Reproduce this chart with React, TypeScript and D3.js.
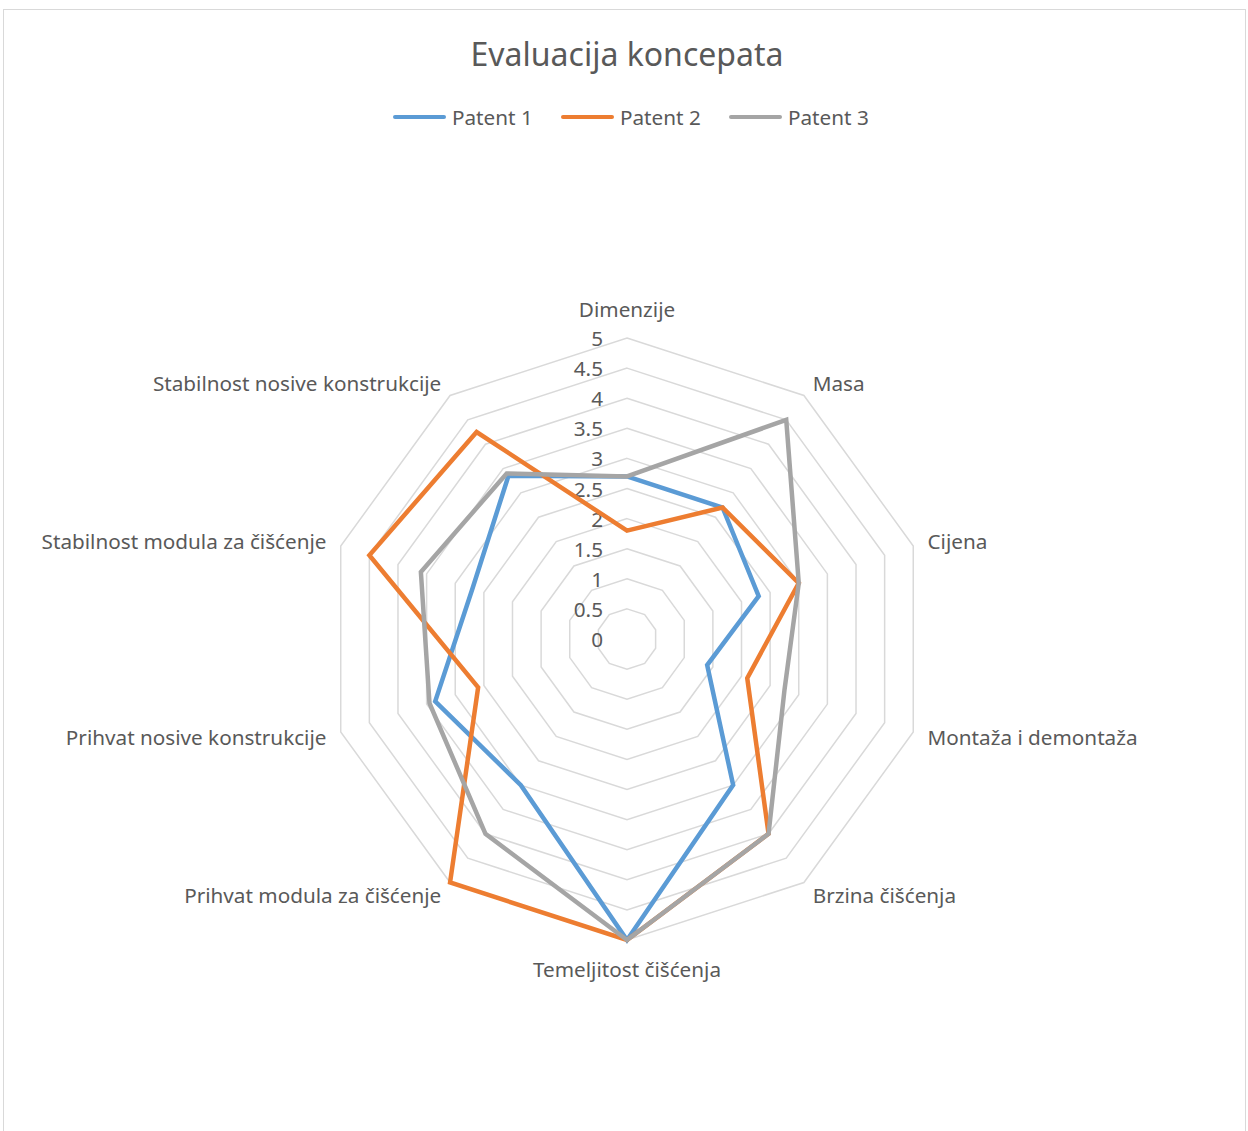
import * as React from 'react';
import * as d3 from 'd3';

const categories = [
  'Dimenzije',
  'Masa',
  'Cijena',
  'Montaža i demontaža',
  'Brzina čišćenja',
  'Temeljitost čišćenja',
  'Prihvat modula za čišćenje',
  'Prihvat nosive konstrukcije',
  'Stabilnost modula za čišćenje',
  'Stabilnost nosive konstrukcije',
];

const patent1 = [2.7, 2.7, 2.3, 1.4, 3, 5, 3, 3.35, 2.7, 3.35];
const patent2 = [1.8, 2.7, 3, 2.1, 4, 5, 5, 2.6, 4.5, 4.25];
const patent3 = [2.7, 4.5, 3, 2.75, 4, 5, 4, 3.45, 3.6, 3.4];

const seriesNames = ['Patent 1', 'Patent 2', 'Patent 3'];
const seriesColors = ['#5b9bd5', '#ed7d31', '#a5a5a5'];
const ticks = [0, 0.5, 1, 1.5, 2, 2.5, 3, 3.5, 4, 4.5, 5];

const FONT = '"Noto Sans", sans-serif';
const TEXT = '#595959';
const LABEL_SIZE = '20.7px';

export default function App() {
  const ref = React.useRef<SVGSVGElement>(null);

  React.useEffect(() => {
    const svg = d3.select(ref.current);
    svg.selectAll('*').remove();

    const cx = 627;
    const cy = 639;
    const r = d3.scaleLinear().domain([0, 5]).range([0, 301]);
    const n = categories.length;
    const angle = (i: number) => (i * 2 * Math.PI) / n;

    // chart frame
    svg.append('rect')
      .attr('x', 3.5).attr('y', 9.5)
      .attr('width', 1242).attr('height', 1160)
      .attr('fill', '#fff').attr('stroke', '#d9d9d9').attr('stroke-width', 1);

    svg.append('text')
      .attr('x', 627).attr('y', 53)
      .attr('text-anchor', 'middle').attr('dominant-baseline', 'central')
      .style('font-family', FONT).style('font-size', '32px').attr('fill', TEXT)
      .text('Evaluacija koncepata');

    // legend
    const legendX = [393, 561, 729];
    seriesNames.forEach((name, k) => {
      const g = svg.append('g').attr('transform', `translate(${legendX[k]},117)`);
      g.append('line').attr('x1', 2).attr('x2', 51).attr('y1', 0).attr('y2', 0)
        .attr('stroke', seriesColors[k]).attr('stroke-width', 4).attr('stroke-linecap', 'round');
      g.append('text').attr('x', 59).attr('y', 0).attr('dominant-baseline', 'central')
        .style('font-family', FONT).style('font-size', LABEL_SIZE).attr('fill', TEXT).text(name);
    });

    const plot = svg.append('g').attr('transform', `translate(${cx},${cy})`);

    const gridLine = d3.lineRadial<number>()
      .angle((_, i) => angle(i))
      .radius(d => r(d))
      .curve(d3.curveLinearClosed);

    ticks.filter(t => t > 0).forEach(t => {
      plot.append('path')
        .attr('d', gridLine(categories.map(() => t)))
        .attr('fill', 'none').attr('stroke', '#d9d9d9').attr('stroke-width', 1.5);
    });

    // tick labels
    plot.selectAll('text.tick').data(ticks).enter().append('text')
      .attr('class', 'tick')
      .attr('x', -24).attr('y', d => -r(d))
      .attr('text-anchor', 'end').attr('dominant-baseline', 'central')
      .style('font-family', FONT).style('font-size', LABEL_SIZE).attr('fill', TEXT)
      .text(d => String(d));

    // category labels
    categories.forEach((c, i) => {
      const a = angle(i);
      const s = Math.sin(a);
      const co = Math.cos(a);
      const x = (r(5) + 15) * s;
      let y = -(r(5) + 15) * co;
      let anchor = 'middle';
      if (s > 0.1) anchor = 'start';
      else if (s < -0.1) anchor = 'end';
      if (Math.abs(s) < 0.1) y += co > 0 ? -14 : 14;
      plot.append('text')
        .attr('x', x).attr('y', y)
        .attr('text-anchor', anchor).attr('dominant-baseline', 'central')
        .style('font-family', FONT).style('font-size', LABEL_SIZE).attr('fill', TEXT)
        .text(c);
    });

    const seriesLine = d3.lineRadial<number>()
      .angle((_, i) => angle(i))
      .radius(d => r(d))
      .curve(d3.curveLinearClosed);

    [patent1, patent2, patent3].forEach((vals, k) => {
      plot.append('path')
        .attr('d', seriesLine(vals))
        .attr('fill', 'none')
        .attr('stroke', seriesColors[k])
        .attr('stroke-width', 4.5)
        .attr('stroke-linejoin', 'miter');
    });
  }, []);

  return (
    <svg ref={ref} width="1248" height="1131"
      style={{ position: 'absolute', left: 0, top: 0 }}></svg>
  );
}
